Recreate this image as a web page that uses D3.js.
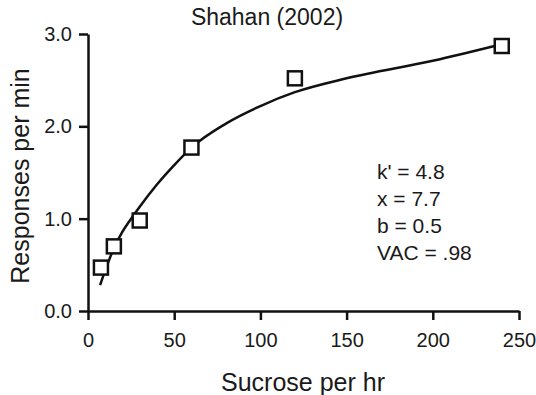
<!DOCTYPE html>
<html>
<head>
<meta charset="utf-8">
<script src="https://cdn.jsdelivr.net/npm/d3@7"></script>
<style>
  body { margin: 0; background: #fff; }
  svg text { font-family: "Liberation Sans", Arial, sans-serif; fill: #1a1a1a; }
</style>
</head>
<body>
<div id="chart"></div>
<script>
// observed points
var sucrose = [7.5, 15, 30, 60, 120, 240];
var responses = [0.47, 0.70, 0.98, 1.77, 2.52, 2.87];

// fitted curve
var curveX = [7, 10, 15, 20, 25, 30, 40, 50, 60, 80, 100, 120, 150, 200, 240];
var curveY = [0.28, 0.44, 0.68, 0.86, 1.0, 1.13, 1.37, 1.58, 1.77, 2.03, 2.22, 2.37, 2.52, 2.71, 2.89];

var xTicks = [0, 50, 100, 150, 200, 250];
var yTicks = [0, 1, 2, 3];
var notes = ["k' = 4.8", "x = 7.7", "b = 0.5", "VAC = .98"];

function init(){
	var w = 536;
	var h = 395;

	var svg = d3.select("#chart")
				.append("svg")
				.attr("width", w)
				.attr("height", h);

	var x = d3.scaleLinear().domain([0, 250]).range([88, 519]);
	var y = d3.scaleLinear().domain([0, 3]).range([311, 34]);

	// axes
	var xAxis = svg.append("g")
		.attr("transform", "translate(0," + y(0) + ")")
		.call(d3.axisBottom(x).tickValues(xTicks).tickSize(9).tickSizeOuter(0).tickPadding(13));
	var yAxis = svg.append("g")
		.attr("transform", "translate(" + x(0) + ",0)")
		.call(d3.axisLeft(y).tickValues(yTicks).tickSize(9).tickSizeOuter(0).tickPadding(7)
			.tickFormat(d3.format(".1f")));

	[xAxis, yAxis].forEach(function(g){
		g.selectAll("path, line").attr("stroke", "#111").attr("stroke-width", 2.5);
		g.selectAll("text").attr("font-size", 20).attr("fill", "#1a1a1a")
			.attr("font-family", "Liberation Sans, Arial, sans-serif");
	});

	// fitted line
	var line = d3.line()
		.x(function(d){ return x(d[0]); })
		.y(function(d){ return y(d[1]); })
		.curve(d3.curveMonotoneX);
	svg.append("path")
		.datum(d3.zip(curveX, curveY))
		.attr("d", line)
		.attr("fill", "none")
		.attr("stroke", "#111")
		.attr("stroke-width", 2.5);

	// squares
	var s = 14;
	svg.selectAll("rect.pt")
		.data(d3.zip(sucrose, responses))
		.enter()
		.append("rect")
		.attr("class", "pt")
		.attr("x", function(d){ return x(d[0]) - s / 2; })
		.attr("y", function(d){ return y(d[1]) - s / 2; })
		.attr("width", s)
		.attr("height", s)
		.attr("fill", "#fff")
		.attr("stroke", "#111")
		.attr("stroke-width", 2.5);

	// title and labels
	svg.append("text")
		.attr("x", 267).attr("y", 25)
		.attr("text-anchor", "middle")
		.attr("font-size", 23)
		.text("Shahan (2002)");

	svg.append("text")
		.attr("x", 303).attr("y", 391)
		.attr("text-anchor", "middle")
		.attr("font-size", 25)
		.text("Sucrose per hr");

	svg.append("text")
		.attr("transform", "translate(29,176) rotate(-90)")
		.attr("text-anchor", "middle")
		.attr("font-size", 25)
		.text("Responses per min");

	svg.selectAll("text.note")
		.data(notes)
		.enter()
		.append("text")
		.attr("class", "note")
		.attr("x", 377)
		.attr("y", function(d, i){ return 179 + i * 27; })
		.attr("font-size", 21)
		.text(function(d){ return d; });
}

window.onload = init;
</script>
</body>
</html>
